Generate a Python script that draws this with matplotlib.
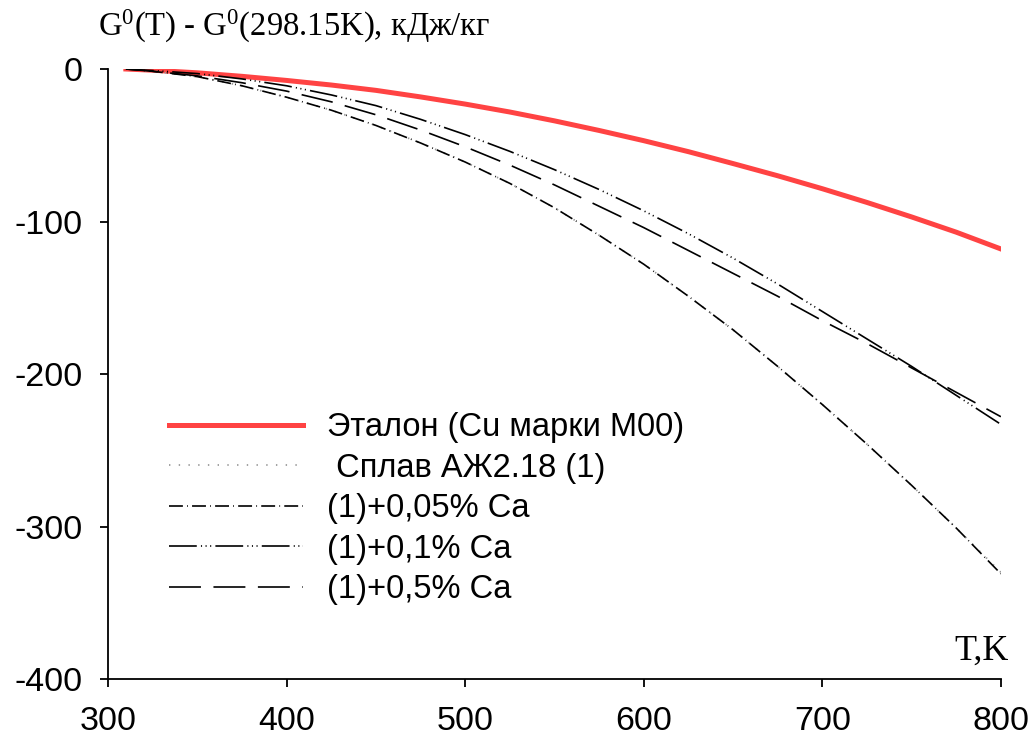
import matplotlib
matplotlib.use("Agg")
import matplotlib.pyplot as plt

plt.rcParams['font.family'] = ['Liberation Sans', 'DejaVu Sans']
plt.rcParams['axes.unicode_minus'] = False
plt.rcParams['lines.scale_dashes'] = False
plt.rcParams['mathtext.fontset'] = 'custom'
plt.rcParams['mathtext.rm'] = 'Liberation Serif'
plt.rcParams['mathtext.it'] = 'Liberation Serif'

# Temperature, K
T = [310, 325, 350, 375, 400, 425, 450, 475, 500, 525, 550,
     575, 600, 625, 650, 675, 700, 725, 750, 775, 800]

# G0(T) - G0(298.15K), kJ/kg
etalon = [0, -0.8, -2.5, -4.8, -7.5, -10.5, -14, -18.3, -23, -28.2, -34,
          -40.3, -47, -54.2, -62, -70, -78.5, -87.5, -97, -107, -118]
splav = [0, -1.5, -5, -11, -18.5, -27, -37, -48.5, -61, -75, -91,
         -109, -128, -149, -171, -195, -220, -246, -273, -301, -330]
ca_005 = [0, -1.5, -5, -11, -18.5, -27, -37, -48.5, -61, -75, -91,
          -109, -128, -149, -171, -195, -220, -246, -273, -301, -331]
ca_01 = [0, -1, -3, -6.5, -11, -17, -24, -33, -43, -54, -66,
         -79, -93, -108, -124, -141, -159, -177, -195, -214, -233]
ca_05 = [0, -1.5, -4.5, -9, -14.5, -21.5, -30, -40, -51, -63, -76,
         -90, -104, -119, -134, -149, -165, -180, -196, -212, -228]

labels = ["Эталон (Cu марки M00)", " Сплав АЖ2.18 (1)", "(1)+0,05% Ca",
          "(1)+0,1% Ca", "(1)+0,5% Ca"]

fig = plt.figure(figsize=(10.31, 7.38), dpi=100)
ax = fig.add_axes([0.1048, 0.0799, 0.866, 0.8266])

ax.plot(T, etalon, color='#ff4343', lw=3.6, label=labels[0])
ax.plot(T, splav, color='#9a9a9a', lw=1.3, ls=(0, (1, 6)), label=labels[1])
ax.plot(T, ca_005, color='black', lw=1.2, ls=(0, (10, 3, 0.6, 3)), label=labels[2])
ax.plot(T, ca_01, color='black', lw=1.2, ls=(0, (20, 3, 0.8, 2.5, 0.8, 2.5, 0.8, 3)), label=labels[3])
ax.plot(T, ca_05, color='black', lw=1.2, ls=(0, (23, 9)), label=labels[4])

ax.set_xlim(300, 800)
ax.set_ylim(-400, 0)
ax.set_xticks([300, 400, 500, 600, 700, 800])
ax.set_yticks([0, -100, -200, -300, -400])
ax.spines['top'].set_visible(False)
ax.spines['right'].set_visible(False)
ax.spines['left'].set_linewidth(1.3)
ax.spines['bottom'].set_linewidth(1.3)
ax.tick_params(labelsize=24.5, length=6, width=1.3)
ax.tick_params(axis='x', pad=13.5)
ax.tick_params(axis='y', pad=12)

fig.text(0.095, 0.951, "G$^{0}$(T) - G$^{0}$(298.15K), кДж/кг",
         family=['Liberation Serif', 'DejaVu Serif'], fontsize=23.5, va='baseline')
fig.text(0.978, 0.106, "T,K", family=['Liberation Serif', 'DejaVu Serif'],
         fontsize=26, ha='right', va='baseline')

ax.legend(loc='upper left', bbox_to_anchor=(0.068, 0.437), frameon=False,
          fontsize=23.5, handlelength=4.1, handletextpad=0.75,
          labelspacing=0.29, borderpad=0, borderaxespad=0)

fig.savefig("out.png", dpi=100)
